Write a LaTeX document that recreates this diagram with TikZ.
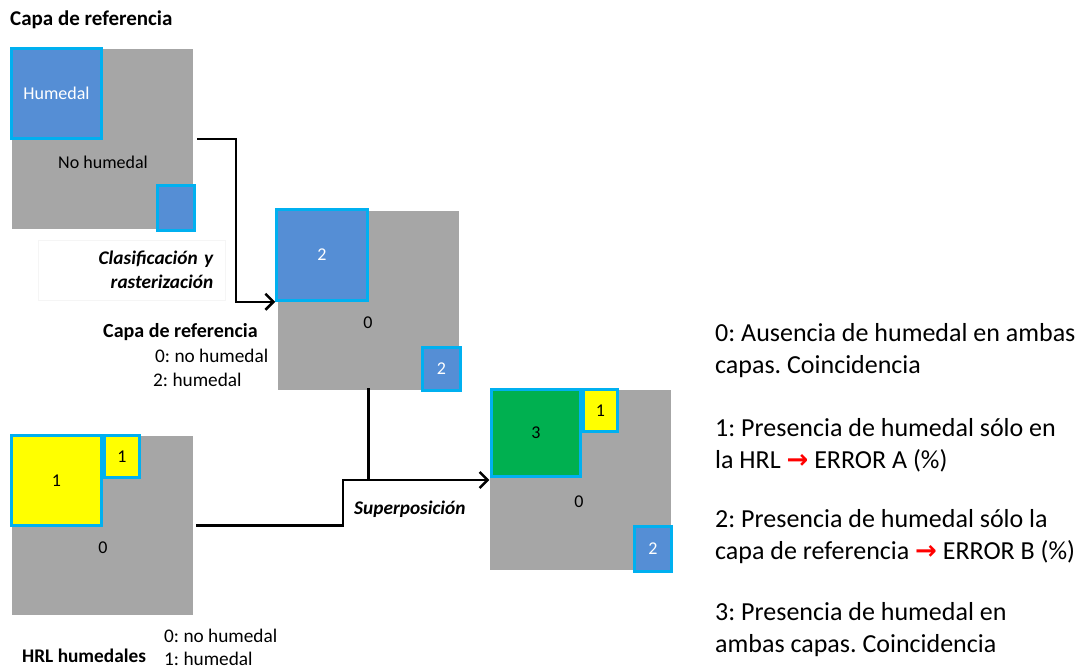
\documentclass[tikz,border=0pt]{standalone}
\usepackage{fontspec}
\setmainfont{Carlito}
\newfontfamily\flechas{DejaVu Sans}
\usetikzlibrary{positioning,arrows.meta}
\definecolor{fondo}{RGB}{166,166,166}
\definecolor{azul}{RGB}{85,142,213}
\definecolor{borde}{RGB}{0,176,240}
\definecolor{verde}{RGB}{0,176,80}
\definecolor{amarillo}{RGB}{255,255,0}
\newcommand{\rojo}{{\color{red}\flechas\bfseries →}}
\frenchspacing

\begin{document}
\begin{tikzpicture}[x=1pt,y=-1pt,
    capa/.style={fill=fondo, inner sep=0pt, minimum width=181pt, minimum height=180pt},
    celda/.style={draw=borde, line width=2.5pt, inner sep=0pt, font=\fontsize{18}{21}\selectfont},
    txt/.style={inner sep=0pt, font=\fontsize{18}{21}\selectfont},
    clave/.style={inner sep=0pt, anchor=west, font=\fontsize{19.3}{22}\selectfont},
    titulo/.style={txt, font=\fontsize{20}{23}\selectfont\bfseries},
    accion/.style={txt, font=\fontsize{19.3}{24}\selectfont\bfseries\itshape},
    leyenda/.style={inner sep=0pt, anchor=west, align=left, font=\fontsize{26}{32}\selectfont},
    flecha/.style={line width=2.5pt, -{Straight Barb[length=8pt,width=16pt]}}]
  \useasboundingbox (0,0) rectangle (1081,670);

  \node[titulo, anchor=west, font=\fontsize{21}{24}\selectfont\bfseries] (t1) at (10,20) {Capa de referencia};
  \node[capa] (r1) at (102.5,139) {};
  \node[celda, fill=azul, text=white, minimum size=90pt] (h1) at (56.5,93.5) {Humedal};
  \node[celda, fill=azul, minimum width=37pt, minimum height=45pt] (p1) at (176,208) {};
  \node[txt] (n1) at (103,162) {No humedal};

  \node[accion, draw=black!4, anchor=north west, text width=163pt, inner xsep=12pt,
    minimum height=60pt, align=right] (cr) at (38,240) {Clasificación y\\rasterización};

  \node[capa, minimum height=179pt] (r2) at (368.5,300.5) {};
  \node[celda, fill=azul, text=white, minimum size=91pt] (h2) at (322,255) {2};
  \node[celda, fill=azul, text=white, minimum width=38pt, minimum height=43pt] (p2) at (441.5,369) {2};
  \node[txt] (n2) at (368,323) {0};
  \node[titulo, anchor=west] (t2) at (103,332) {Capa de referencia};
  \node[clave] (t2a) at (155,356) {0: no humedal};
  \node[clave] (t2b) at (153,380) {2: humedal};

  \node[capa, minimum height=179pt] (r3) at (102.5,525.5) {};
  \node[celda, fill=amarillo, minimum size=90pt] (h3) at (56.5,480.5) {1};
  \node[celda, fill=amarillo, minimum width=35pt, minimum height=42pt] (p3) at (122,456.5) {1};
  \node[txt] (n3) at (103,548) {0};
  \node[titulo, anchor=west, font=\fontsize{19.3}{22}\selectfont\bfseries] (t3) at (22,656) {HRL humedales};
  \node[clave] (t3a) at (164,636) {0: no humedal};
  \node[clave] (t3b) at (164,659) {1: humedal};

  \node[capa] (r4) at (580,480) {};
  \node[celda, fill=verde, minimum width=89pt, minimum height=87pt] (h4) at (536,433) {3};
  \node[celda, fill=amarillo, minimum width=34pt, minimum height=42pt] (q4) at (600.5,410.5) {1};
  \node[celda, fill=azul, text=white, minimum width=37pt, minimum height=45pt] (p4) at (653,549) {2};
  \node[txt] (n4) at (579,502) {0};
  \node[accion, anchor=west] (sp) at (354,509) {Superposición};

  \draw[flecha] ([xshift=4pt]r1.east) -- ++(39,0) |- (h2.south west);
  \draw[flecha] ([xshift=3pt]r3.east) -- ++(147,0) |- (r4.west);
  \draw[line width=2.5pt] ([yshift=2pt]r2.south) -- (r2.south |- r4.west);

  \node[leyenda] (l0) at (715,351) {0: Ausencia de humedal en ambas\\capas. Coincidencia};
  \node[leyenda] (l1) at (715,445) {1: Presencia de humedal sólo en\\la HRL \rojo{} ERROR A (\%)};
  \node[leyenda] (l2) at (715,537) {2: Presencia de humedal sólo la\\capa de referencia \rojo{} ERROR B (\%)};
  \node[leyenda] (l3) at (715,629.5) {3: Presencia de humedal en\\ambas capas. Coincidencia};
\end{tikzpicture}
\end{document}
